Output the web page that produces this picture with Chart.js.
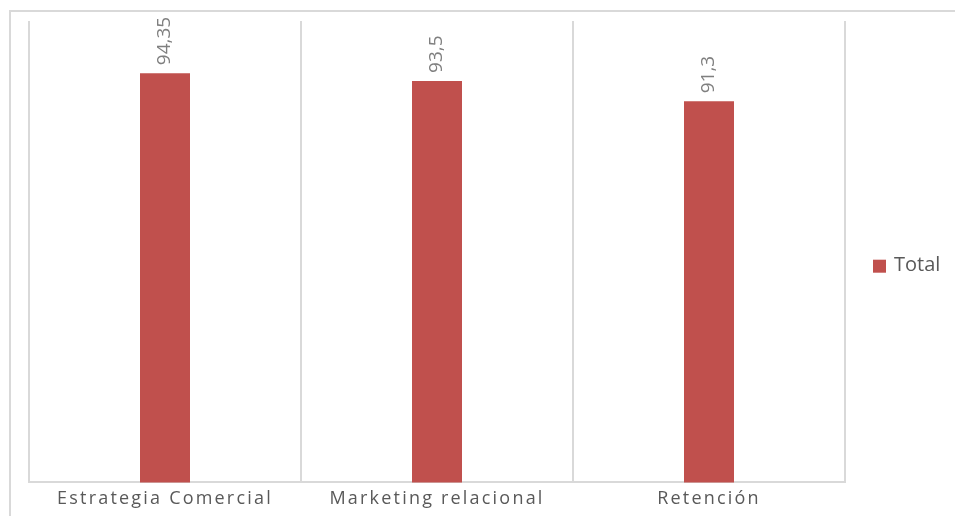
<!DOCTYPE html>
<html>
<head>
<meta charset="utf-8">
<script src="https://cdn.jsdelivr.net/npm/chart.js@4.4.1/dist/chart.umd.min.js"></script>
<style>
  html, body { margin: 0; padding: 0; background: #ffffff; overflow: hidden; }
  #frame { position: absolute; left: 9px; top: 10px; width: 1000px; height: 600px;
           border-top: 2px solid #d9d9d9; border-left: 2px solid #d9d9d9; }
  #wrap { position: absolute; left: 0; top: 0; width: 955px; height: 516px; }
</style>
</head>
<body>
<div id="frame"></div>
<div id="wrap"><canvas id="chart"></canvas></div>
<script>
// Categories and the single "Total" series
const categories = ['Estrategia Comercial', 'Marketing relacional', 'Retención'];
const totalValues = [94.35, 93.5, 91.3];
const seriesName = 'Total';

const BAR_COLOR = '#c0504d';
const GRID_COLOR = '#d9d9d9';
const FONT = "'Open Sans', 'Liberation Sans', sans-serif";

// Comma decimal formatting for the value labels
const fmt = v => String(v).replace('.', ',');

// Letter spacing for the category labels only
const spacingPlugin = {
  id: 'tickSpacing',
  beforeDraw(chart) { chart.ctx.letterSpacing = '2.2px'; },
  beforeDatasetsDraw(chart) { chart.ctx.letterSpacing = '0px'; }
};

// Vertical value labels above each bar
const valueLabels = {
  id: 'valueLabels',
  afterDatasetsDraw(chart) {
    const ctx = chart.ctx;
    const meta = chart.getDatasetMeta(0);
    const data = chart.data.datasets[0].data;
    ctx.save();
    ctx.font = '19px ' + FONT;
    ctx.fillStyle = '#7f7f7f';
    ctx.textAlign = 'left';
    ctx.textBaseline = 'middle';
    meta.data.forEach((bar, i) => {
      ctx.save();
      ctx.translate(bar.x, bar.y - 8);
      ctx.rotate(-Math.PI / 2);
      ctx.fillText(fmt(data[i]), 0, 0);
      ctx.restore();
    });
    ctx.restore();
  }
};

// Legend on the right side, built from the dataset
const sideLegend = {
  id: 'sideLegend',
  afterDraw(chart) {
    const ctx = chart.ctx;
    const ds = chart.data.datasets[0];
    const area = chart.chartArea;
    const cy = (area.top + area.bottom) / 2 + 14;
    const x0 = area.right + 28;
    ctx.save();
    ctx.fillStyle = ds.backgroundColor;
    ctx.fillRect(x0, cy - 6, 13, 13);
    ctx.font = '20px ' + FONT;
    ctx.fillStyle = '#595959';
    ctx.textAlign = 'left';
    ctx.textBaseline = 'middle';
    ctx.fillText(ds.label, x0 + 21, cy);
    ctx.restore();
  }
};

new Chart(document.getElementById('chart'), {
  type: 'bar',
  data: {
    labels: categories,
    datasets: [{
      label: seriesName,
      data: totalValues,
      backgroundColor: BAR_COLOR,
      categoryPercentage: 50 / 272,
      barPercentage: 1
    }]
  },
  options: {
    responsive: true,
    maintainAspectRatio: false,
    animation: false,
    layout: { padding: { left: 29, right: 110, top: 21, bottom: 0 } },
    plugins: { legend: { display: false }, tooltip: { enabled: false } },
    scales: {
      x: {
        grid: { offset: true, color: GRID_COLOR, lineWidth: 2, drawTicks: false },
        border: { color: GRID_COLOR, width: 2 },
        ticks: { color: '#595959', font: { family: FONT, size: 18 }, padding: 6 }
      },
      y: {
        display: false,
        min: 50,
        max: 100
      }
    }
  },
  plugins: [spacingPlugin, valueLabels, sideLegend]
});
</script>
</body>
</html>
